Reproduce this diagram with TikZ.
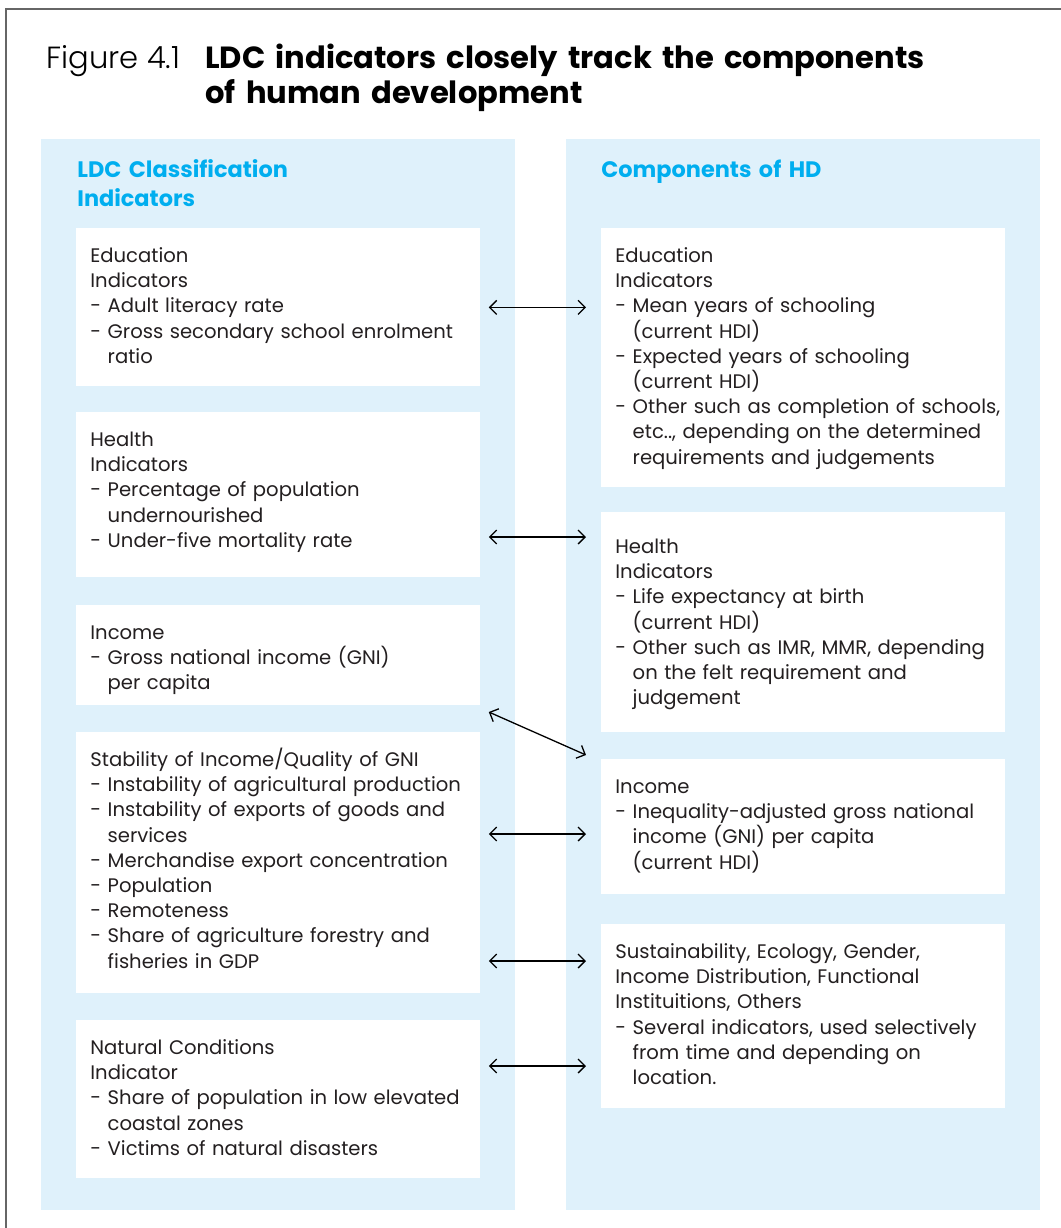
\documentclass[tikz,border=0pt]{standalone}
\usepackage{fontspec}
\usetikzlibrary{arrows.meta}
\setmainfont{Poppins}
\newfontfamily\lightfont{Poppins Light}
\definecolor{panel}{HTML}{DFF1FB}
\definecolor{head}{HTML}{00AEEF}
\definecolor{ink}{HTML}{231F20}
\newcommand{\lpad}[1]{\leftskip=7pt\relax #1\par}% left margin inside a box
\newcommand{\cont}{\phantom{- }}% hanging indent of a wrapped item
\begin{document}
\begin{tikzpicture}[x=0.5pt,y=-0.5pt,
  box/.style={fill=white, anchor=north west, text width=202pt, inner xsep=0pt,
    inner ysep=0pt, text height=17pt, align=left, text=ink,
    font=\fontsize{9.8}{12.6}\selectfont},
  hd/.style={anchor=base west, text width=220pt, inner sep=0pt, text=head,
    font=\fontsize{11.2}{14.7}\selectfont\bfseries},
  link/.style={>={Straight Barb[length=3.5pt,width=7pt]}, <->, line width=0.65pt}]
  \useasboundingbox (0,0) rectangle (1061,1228);
  \draw[gray!80!black, line width=0.6pt] (1061,9) -- (6,9) -- (6,1228);
  % title
  \node[anchor=base west, inner sep=0pt, font=\fontsize{15.3}{17.5}\selectfont] (fig) at (46,68) {\lightfont Figure 4.1};
  \node[anchor=base west, inner sep=0pt, text width=430pt, align=left,
    font=\fontsize{15.3}{17.5}\selectfont\bfseries] (ttl) at (205,68)
    {LDC indicators closely track the components\\of human development};
  % two columns
  \fill[panel] (41,139) rectangle (515,1210);
  \fill[panel] (566,139) rectangle (1040,1210);
  \node[hd] (lhd) at (77,177) {LDC Classification\\Indicators};
  \node[hd] (rhd) at (601,177) {Components of HD};
  % LDC side
  \node[box, text depth=62pt] (ledu) at (76,228)
    {\lpad{Education\\Indicators\\- Adult literacy rate\\- Gross secondary school enrolment\\\cont ratio}};
  \node[box, text depth=65.5pt] (lhea) at (76,412)
    {\lpad{Health\\Indicators\\- Percentage of population\\\cont undernourished\\- Under-five mortality rate}};
  \node[box, text depth=33pt] (linc) at (76,605)
    {\lpad{Income\\- Gross national income (GNI)\\\cont per capita}};
  \node[box, text depth=113.5pt] (lsta) at (76,732)
    {\lpad{Stability of Income/Quality of GNI\\- Instability of agricultural production\\- Instability of exports of goods and\\\cont services\\- Merchandise export concentration\\- Population\\- Remoteness\\- Share of agriculture forestry and\\\cont fisheries in GDP}};
  \node[box, text depth=62pt] (lnat) at (76,1020)
    {\lpad{Natural Conditions\\Indicator\\- Share of population in low elevated\\\cont coastal zones\\- Victims of natural disasters}};
  % HD side
  \node[box, text depth=112.5pt] (redu) at (601,228)
    {\lpad{Education\\Indicators\\- Mean years of schooling\\\cont (current HDI)\\- Expected years of schooling\\\cont (current HDI)\\- Other such as completion of schools,\\\cont etc.., depending on the determined\\\cont requirements and judgements}};
  \node[box, text height=20.5pt, text depth=89.5pt] (rhea) at (601,512)
    {\lpad{Health\\Indicators\\- Life expectancy at birth\\\cont (current HDI)\\- Other such as IMR, MMR, depending\\\cont on the felt requirement and\\\cont judgement}};
  \node[box, text depth=50.5pt] (rinc) at (601,759)
    {\lpad{Income\\- Inequality-adjusted gross national\\\cont income (GNI) per capita\\\cont (current HDI)}};
  \node[box, text depth=75pt] (roth) at (601,924)
    {\lpad{Sustainability, Ecology, Gender,\\Income Distribution, Functional\\Instituitions, Others\\- Several indicators, used selectively\\\cont from time and depending on\\\cont location.}};
  % links
  \draw[link] ([xshift=4pt]ledu.east) -- ([xshift=-7.5pt]ledu.east -| redu.west);
  \draw[link] ([xshift=4pt]lhea.east |- 0,537) -- ([xshift=-7.5pt]rhea.west |- 0,537);
  \draw[link] ([xshift=4pt]linc.east |- 0,712) -- ([xshift=-7.5pt]rinc.west |- 0,755);
  \draw[link] ([xshift=4pt]lsta.east |- 0,834) -- ([xshift=-7.5pt]rinc.west |- 0,834);
  \draw[link] ([xshift=4pt]lsta.east |- 0,961) -- ([xshift=-7.5pt]roth.west |- 0,961);
  \draw[link] ([xshift=4pt]lnat.east |- 0,1066) -- ([xshift=-7.5pt]roth.west |- 0,1066);
\end{tikzpicture}
\end{document}
